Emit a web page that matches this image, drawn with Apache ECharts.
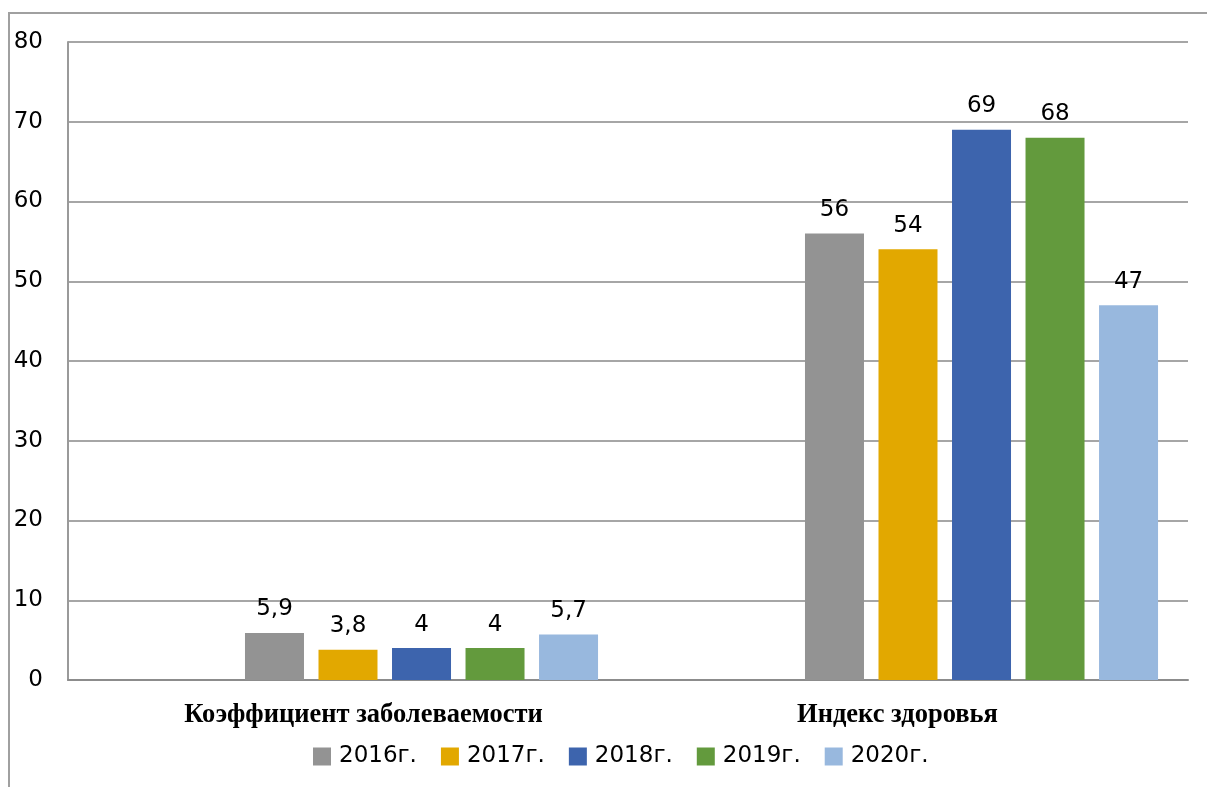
<!DOCTYPE html>
<html>
<head>
<meta charset="utf-8">
<script src="https://cdn.jsdelivr.net/npm/echarts@6/dist/echarts.min.js"></script>
<style>html,body{margin:0;padding:0;background:#fff;overflow:hidden}#c{width:1207px;height:787px}</style>
</head>
<body>
<div id="c"></div>
<script>
var categories = ['Коэффициент заболеваемости', 'Индекс здоровья'];
var seriesNames = ['2016г.', '2017г.', '2018г.', '2019г.', '2020г.'];
var v2016 = [5.9, 56];
var v2017 = [3.8, 54];
var v2018 = [4, 69];
var v2019 = [4, 68];
var v2020 = [5.7, 47];
var yTicks = [0, 10, 20, 30, 40, 50, 60, 70, 80];

var values = [v2016, v2017, v2018, v2019, v2020];
var colors = ['#939393', '#E2A800', '#3D64AD', '#639A3D', '#98B8DE'];

var chart = echarts.init(document.getElementById('c'));
var series = [];
// two empty placeholder slots (as in the original chart)
for (var p = 0; p < 2; p++) {
  series.push({ name: 'empty' + p, type: 'bar', data: [null, null], barGap: '24.6%', barCategoryGap: '10.7%', silent: true });
}
values.forEach(function (d, i) {
  series.push({
    name: seriesNames[i],
    type: 'bar',
    data: d,
    barGap: '24.6%',
    barCategoryGap: '10.7%',
    itemStyle: { color: colors[i] },
    label: {
      show: true,
      position: 'top',
      distance: 12,
      color: '#000',
      fontFamily: 'DejaVu Sans',
      fontSize: 23,
      formatter: function (p) { return String(p.value).replace('.', ','); }
    }
  });
});

chart.setOption({
  animation: false,
  backgroundColor: '#fff',
  grid: { left: 68, right: 19, top: 42, bottom: 107 },
  legend: {
    data: seriesNames,
    top: 740,
    left: 308,
    itemWidth: 18,
    itemHeight: 18,
    itemGap: 24,
    icon: 'rect',
    textStyle: { fontFamily: 'DejaVu Sans', fontSize: 23, color: '#000', padding: [2, 0, 0, 3] }
  },
  xAxis: {
    type: 'category',
    data: categories,
    axisLine: { lineStyle: { color: '#8c8c8c', width: 2 } },
    axisTick: { show: false },
    axisLabel: {
      margin: 22,
      color: '#000',
      fontFamily: 'Liberation Serif',
      fontWeight: 'bold',
      fontSize: 26.5,
      formatter: function (v, i) { return i === 0 ? '{a|' + v + '}' : '{b|' + v + '}'; },
      rich: {
        a: { fontFamily: 'Liberation Serif', fontWeight: 'bold', fontSize: 26.5, color: '#000', padding: [0, 0, 0, 31] },
        b: { fontFamily: 'Liberation Serif', fontWeight: 'bold', fontSize: 26.5, color: '#000', padding: [0, 21, 0, 0] }
      }
    }
  },
  yAxis: {
    type: 'value',
    min: yTicks[0],
    max: yTicks[yTicks.length - 1],
    interval: 10,
    axisLine: { show: true, lineStyle: { color: '#9a9a9a', width: 2 } },
    axisTick: { show: false },
    splitLine: { lineStyle: { color: '#a6a6a6', width: 2 } },
    axisLabel: {
      margin: 25,
      color: '#000',
      fontFamily: 'DejaVu Sans',
      fontSize: 23,
      padding: [8, 0, 0, 0]
    }
  },
  graphic: [{
    type: 'polyline',
    shape: { points: [[9, 1000], [9, 13], [1400, 13]] },
    style: { fill: null, stroke: '#a0a0a0', lineWidth: 2 },
    silent: true,
    z: -1
  }],
  series: series
});
</script>
</body>
</html>
